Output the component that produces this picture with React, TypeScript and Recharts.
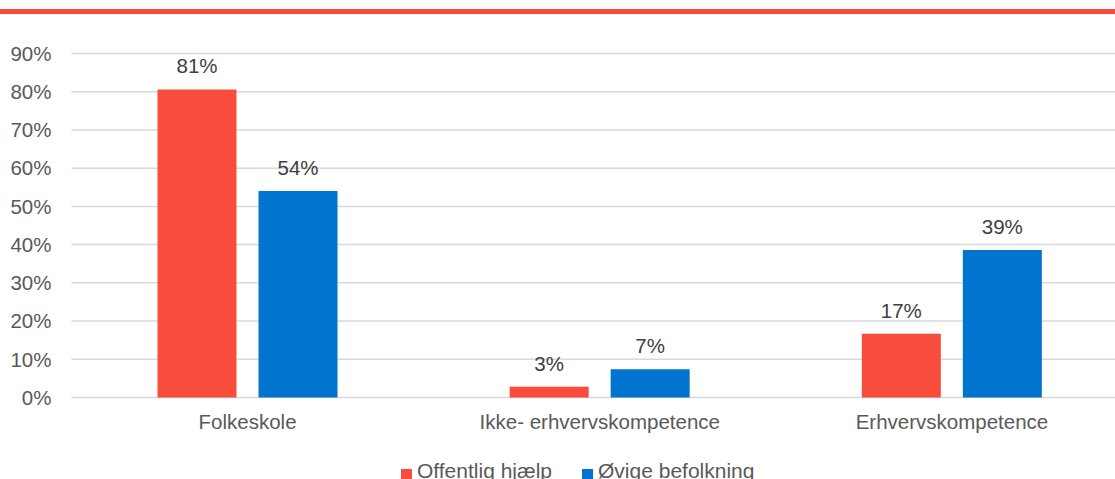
import { BarChart, Bar, XAxis, YAxis, CartesianGrid, LabelList } from "recharts"

const categories = ["Folkeskole", "Ikke- erhvervskompetence", "Erhvervskompetence"]
const offentligHjaelp = [80.6, 2.8, 16.7]
const oevrigeBefolkning = [54.0, 7.4, 38.6]
const yTicks = [0, 10, 20, 30, 40, 50, 60, 70, 80, 90]

const RED = "#F84C3C"
const BLUE = "#0074CF"
const FONT = "'Liberation Sans', Arial, sans-serif"

const data = categories.map((c, i) => ({
  name: c,
  offentlig: offentligHjaelp[i],
  oevrige: oevrigeBefolkning[i],
}))

const pct = (v: any) => `${Math.round(Number(v))}%`

function LegendItem({ color, label }: { color: string; label: string }) {
  return (
    <span style={{ display: "inline-flex", alignItems: "center", marginRight: 30 }}>
      <span style={{ width: 11, height: 11, background: color, display: "inline-block", marginRight: 5, marginTop: 6 }} />
      <span>{label}</span>
    </span>
  )
}

export default function App() {
  return (
    <div style={{ position: "absolute", left: 0, top: 0, width: 1115, height: 479, overflow: "hidden", background: "#fff", fontFamily: FONT }}>
      <div style={{ position: "absolute", left: 0, top: 9, width: 1115, height: 4.5, background: RED }} />
      <BarChart
        width={1128}
        height={479}
        data={data}
        margin={{ top: 53.5, right: 0, left: 0, bottom: 51.5 }}
        barSize={79}
        barGap={22}
      >
        <CartesianGrid vertical={false} stroke="#D9D9D9" strokeWidth={1.5} />
        <XAxis
          dataKey="name"
          height={30}
          axisLine={false}
          tickLine={false}
          tickMargin={11}
          tick={{ fontSize: 20.5, fill: "#595959", fontFamily: FONT }}
          interval={0}
        />
        <YAxis
          width={71.5}
          domain={[0, 90]}
          ticks={yTicks}
          axisLine={false}
          tickLine={false}
          tickMargin={14}
          tickFormatter={(v) => `${v}%`}
          tick={{ fontSize: 20.5, fill: "#595959", fontFamily: FONT }}
        />
        <Bar dataKey="offentlig" name="Offentlig hjælp" fill={RED} isAnimationActive={false}>
          <LabelList dataKey="offentlig" position="top" offset={16} formatter={pct} style={{ fontSize: 20.5, fill: "#404040", fontFamily: FONT }} />
        </Bar>
        <Bar dataKey="oevrige" name="Øvige befolkning" fill={BLUE} isAnimationActive={false}>
          <LabelList dataKey="oevrige" position="top" offset={16} formatter={pct} style={{ fontSize: 20.5, fill: "#404040", fontFamily: FONT }} />
        </Bar>
      </BarChart>
      <div style={{ position: "absolute", left: 401, top: 459, fontSize: 21, color: "#595959", whiteSpace: "nowrap", display: "flex" }}>
        <LegendItem color={RED} label="Offentlig hjælp" />
        <LegendItem color={BLUE} label="Øvige befolkning" />
      </div>
    </div>
  )
}
